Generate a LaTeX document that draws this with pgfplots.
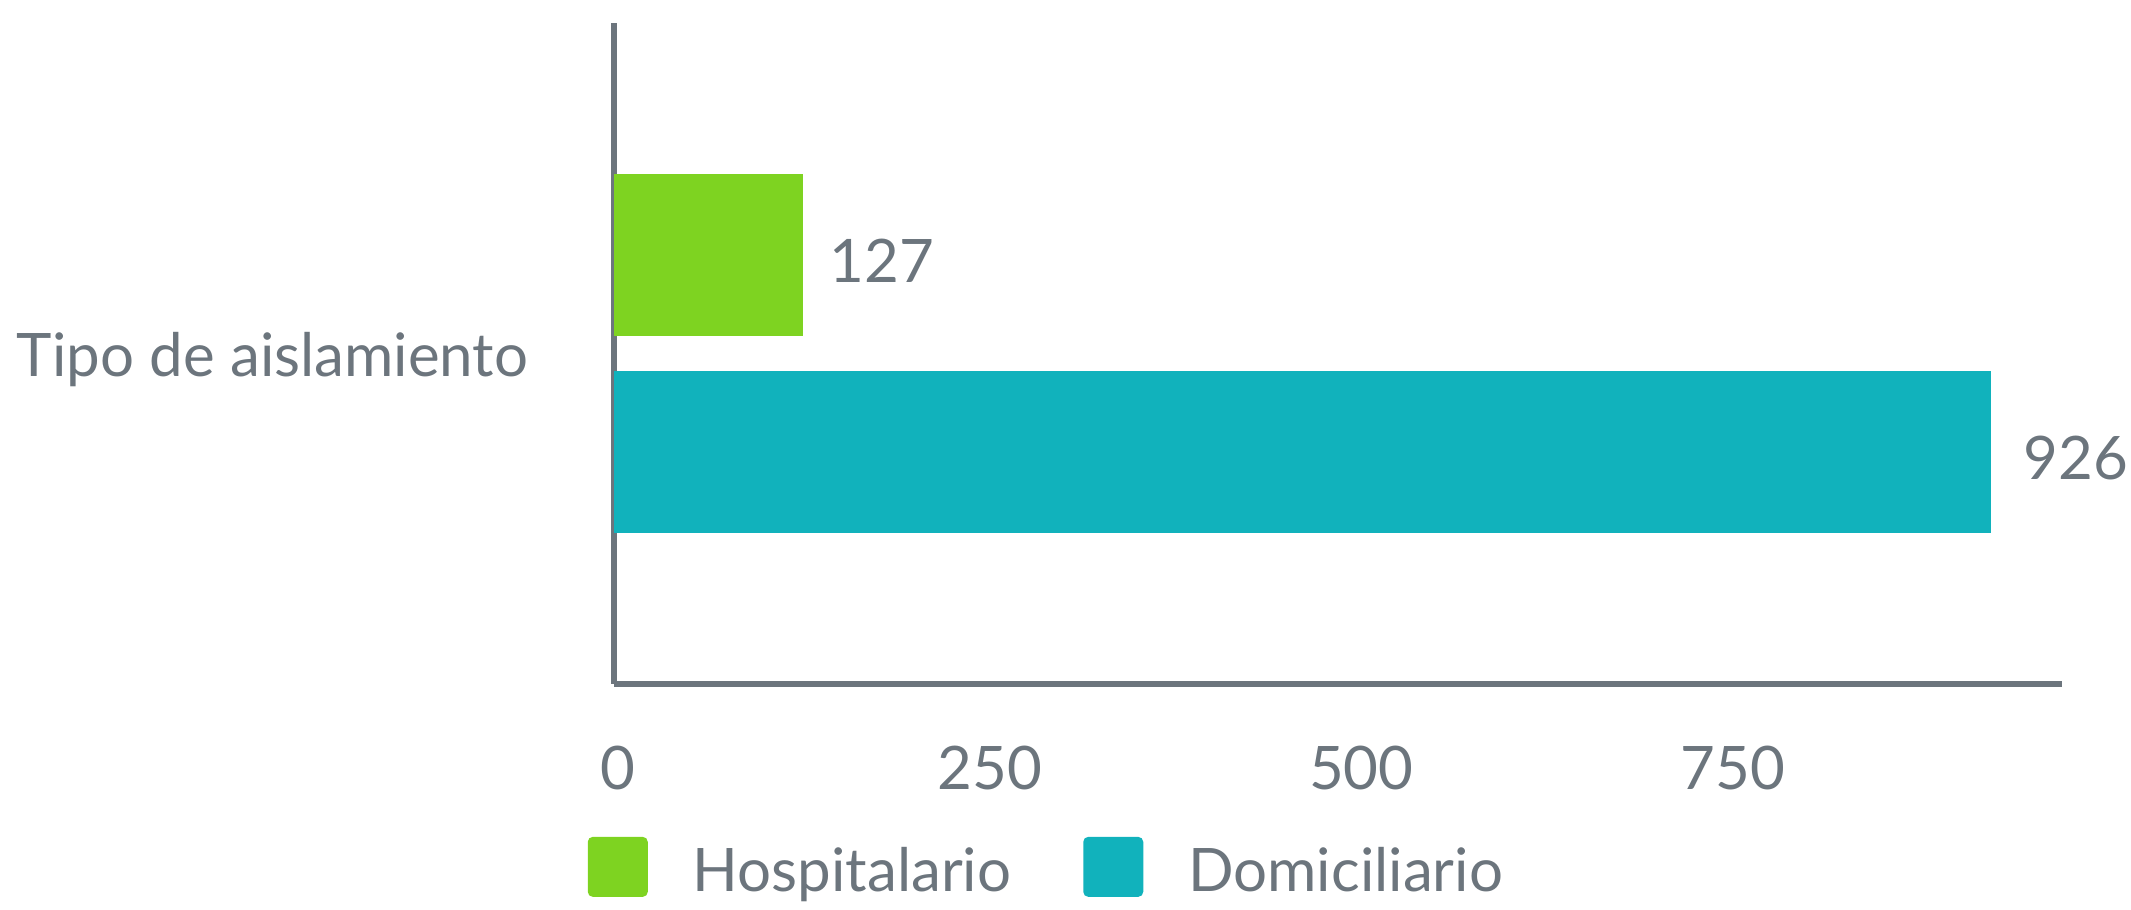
\documentclass[border=0pt]{standalone}
\usepackage{pgfplots}
\pgfplotsset{compat=1.18}
\usepackage{fontspec}
\setmainfont{Lato}
\definecolor{axgray}{HTML}{6C757D}
\definecolor{hosp}{HTML}{7ED321}
\definecolor{domi}{HTML}{11B2BC}
\newcommand\ff{\fontsize{15.0}{18}\selectfont}
\begin{document}
\begin{tikzpicture}
\useasboundingbox (-153.5pt,-56.5pt) rectangle (379.25pt,171pt);
\begin{axis}[
  at={(0pt,0pt)}, anchor=south west,
  scale only axis, width=362pt, height=165.25pt,
  xmin=0, xmax=974, ymin=-0.5, ymax=0.5,
  xbar,
  axis x line=bottom, axis y line=left,
  axis line style={draw=axgray, line width=1.5pt, -},
  major tick length=0pt,
  xtick={0,250,500,750},
  ytick={0}, yticklabels={Tipo de aislamiento},
  /pgf/number format/assume math mode=true,
  xticklabel style={anchor=base, inner sep=0pt, yshift=-26.5pt, xshift=1pt, font=\ff, text=axgray},
  yticklabel style={anchor=base east, inner sep=0pt, xshift=-21.25pt, yshift=-5.75pt, font=\ff, text=axgray},
  nodes near coords,
  every node near coord/.append style={anchor=west, inner sep=0pt, yshift=-1.5pt, font=\ff, text=axgray},
  legend columns=2,
  legend style={draw=none, fill=none, at={(axis description cs:0,0)}, anchor=west,
    xshift=-6.75pt, yshift=-45.75pt, font=\ff, inner sep=0pt,
    nodes={inner sep=0pt, text=axgray},
    /tikz/every odd column/.append style={column sep=11.25pt},
    /tikz/every even column/.append style={column sep=18pt}},
]
\addplot[fill=hosp, draw=none, bar width=0.2443, bar shift=0.149,
  every node near coord/.append style={xshift=6.5pt},
  legend image code/.code={\fill[hosp, rounded corners=1.25pt] (0pt,-6.2pt) rectangle (15pt,8.8pt);}]
  coordinates {(127,0)};
\addplot[fill=domi, draw=none, bar width=0.2443, bar shift=-0.149,
  every node near coord/.append style={xshift=8pt},
  legend image code/.code={\fill[domi, rounded corners=1.25pt] (0pt,-6.2pt) rectangle (15pt,8.8pt);}]
  coordinates {(926,0)};
\legend{Hospitalario, Domiciliario}
\end{axis}
\end{tikzpicture}
\end{document}
